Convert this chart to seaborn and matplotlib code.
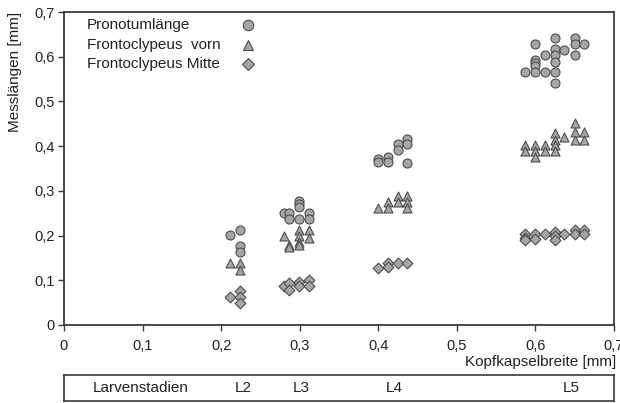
import matplotlib
matplotlib.use("Agg")
import matplotlib.pyplot as plt
import seaborn as sns
import pandas as pd
from matplotlib.lines import Line2D

# ---- data (Kopfkapselbreite [mm] vs. Messlängen [mm]) ----
pron_x = [0.211, 0.224, 0.224, 0.224,
          0.280, 0.286, 0.286, 0.299, 0.299, 0.299, 0.299, 0.312, 0.312,
          0.400, 0.400, 0.412, 0.412, 0.425, 0.425, 0.437, 0.437, 0.437,
          0.587, 0.599, 0.599, 0.599, 0.599, 0.599, 0.612, 0.612, 0.625, 0.625,
          0.625, 0.625, 0.625, 0.625, 0.636, 0.650, 0.650, 0.650, 0.662]
pron_y = [0.201, 0.213, 0.177, 0.163,
          0.250, 0.250, 0.237, 0.277, 0.270, 0.263, 0.237, 0.250, 0.237,
          0.371, 0.365, 0.376, 0.365, 0.405, 0.392, 0.416, 0.405, 0.362,
          0.565, 0.629, 0.593, 0.585, 0.579, 0.565, 0.604, 0.565, 0.641, 0.617,
          0.604, 0.589, 0.565, 0.542, 0.615, 0.641, 0.629, 0.604, 0.629]

vorn_x = [0.211, 0.224, 0.224,
          0.280, 0.286, 0.286, 0.299, 0.299, 0.299, 0.299, 0.312, 0.312,
          0.400, 0.412, 0.412, 0.425, 0.425, 0.437, 0.437, 0.437,
          0.587, 0.587, 0.599, 0.599, 0.599, 0.612, 0.612, 0.625, 0.625, 0.625,
          0.625, 0.636, 0.650, 0.650, 0.650, 0.662, 0.662]
vorn_y = [0.139, 0.139, 0.123,
          0.199, 0.179, 0.175, 0.213, 0.199, 0.186, 0.179, 0.213, 0.195,
          0.262, 0.275, 0.262, 0.289, 0.275, 0.289, 0.275, 0.262,
          0.403, 0.390, 0.403, 0.390, 0.375, 0.403, 0.390, 0.429, 0.414, 0.403,
          0.390, 0.420, 0.451, 0.432, 0.414, 0.432, 0.414]

mitte_x = [0.211, 0.224, 0.224, 0.224,
           0.280, 0.286, 0.286, 0.299, 0.299, 0.312, 0.312,
           0.400, 0.412, 0.412, 0.425, 0.437,
           0.587, 0.587, 0.587, 0.599, 0.599, 0.612, 0.625, 0.625, 0.625,
           0.636, 0.650, 0.650, 0.662, 0.662]
mitte_y = [0.063, 0.076, 0.063, 0.049,
           0.087, 0.094, 0.078, 0.096, 0.087, 0.100, 0.087,
           0.128, 0.139, 0.130, 0.139, 0.139,
           0.204, 0.194, 0.189, 0.204, 0.192, 0.204, 0.209, 0.198, 0.189,
           0.204, 0.213, 0.204, 0.213, 0.204]

series_names = ["Pronotumlänge", "Frontoclypeus  vorn", "Frontoclypeus Mitte"]
series_markers = ["o", "^", "D"]

x_ticks = [0, 0.1, 0.2, 0.3, 0.4, 0.5, 0.6, 0.7]
x_ticklabels = ["0", "0,1", "0,2", "0,3", "0,4", "0,5", "0,6", "0,7"]
y_ticks = [0, 0.1, 0.2, 0.3, 0.4, 0.5, 0.6, 0.7]
y_ticklabels = ["0", "0,1", "0,2", "0,3", "0,4", "0,5", "0,6", "0,7"]

stage_labels = ["Larvenstadien", "L2", "L3", "L4", "L5"]
stage_pos = [0.098, 0.228, 0.302, 0.420, 0.645]

# ---- build table ----
df = pd.concat([
    pd.DataFrame({"x": pron_x, "y": pron_y, "Messung": series_names[0]}),
    pd.DataFrame({"x": vorn_x, "y": vorn_y, "Messung": series_names[1]}),
    pd.DataFrame({"x": mitte_x, "y": mitte_y, "Messung": series_names[2]}),
], ignore_index=True)

sns.set_theme(style="white")
plt.rcParams["font.family"] = ["Liberation Sans", "DejaVu Sans"]

W, H = 620, 403
fig = plt.figure(figsize=(W / 100, H / 100), dpi=100)
ax = fig.add_axes([64 / W, 1 - 325 / H, 550 / W, 313 / H])

fill = "#a6a6a6"
edge = "#4d4d4d"
spine_c = "#3a3a3a"
txt_c = "#222222"
fs = 11

sizes = {series_names[0]: 42, series_names[1]: 42, series_names[2]: 30}
for name, mk in zip(series_names, series_markers):
    sub = df[df["Messung"] == name]
    sns.scatterplot(data=sub, x="x", y="y", marker=mk, s=sizes[name],
                    color=fill, edgecolor=edge, linewidth=0.8, ax=ax,
                    legend=False, zorder=3)

ax.set_xlim(0, 0.7)
ax.set_ylim(0, 0.7)
ax.set_xticks(x_ticks)
ax.set_xticklabels(x_ticklabels)
ax.set_yticks(y_ticks)
ax.set_yticklabels(y_ticklabels)
ax.tick_params(axis="both", direction="out", length=4, width=1.0,
               color=spine_c, labelsize=10.5, labelcolor=txt_c)
ax.tick_params(axis="x", pad=6)
ax.tick_params(axis="y", pad=3)
ax.tick_params(bottom=True, left=True)
for sp in ax.spines.values():
    sp.set_visible(True)
    sp.set_color(spine_c)
    sp.set_linewidth(1.3)
ax.set_xlabel("")
ax.set_ylabel("")
ax.grid(False)

# axis titles
fig.text(616 / W, 1 - 362 / H, "Kopfkapselbreite [mm]", ha="right", va="center",
         fontsize=fs, color=txt_c)
fig.text(15 / W, 1 - 12 / H, "Messlängen [mm]", rotation=90, ha="center",
         va="top", fontsize=fs, color=txt_c)

# legend (text left, marker right)
leg_rows_y = [25, 45, 64]
for name, mk, yy in zip(series_names, series_markers, leg_rows_y):
    fig.text(87 / W, 1 - yy / H, name, ha="left", va="center",
             fontsize=fs, color=txt_c)
    ms = 7.5 if mk != "D" else 6.5
    fig.add_artist(Line2D([248 / W], [1 - yy / H], marker=mk, markersize=ms,
                          markerfacecolor=fill, markeredgecolor=edge,
                          markeredgewidth=0.8, linestyle="none",
                          transform=fig.transFigure))

# Larvenstadien box
bax = fig.add_axes([64 / W, 1 - 401 / H, 550 / W, 26 / H])
bax.set_xlim(0, 0.7)
bax.set_ylim(0, 1)
bax.set_xticks([])
bax.set_yticks([])
bax.set_facecolor("white")
for sp in bax.spines.values():
    sp.set_visible(True)
    sp.set_color(spine_c)
    sp.set_linewidth(1.2)
for lab, pos in zip(stage_labels, stage_pos):
    bax.text(pos, 0.5, lab, ha="center", va="center", fontsize=fs,
             color=txt_c)

fig.savefig("out.png", dpi=100)
